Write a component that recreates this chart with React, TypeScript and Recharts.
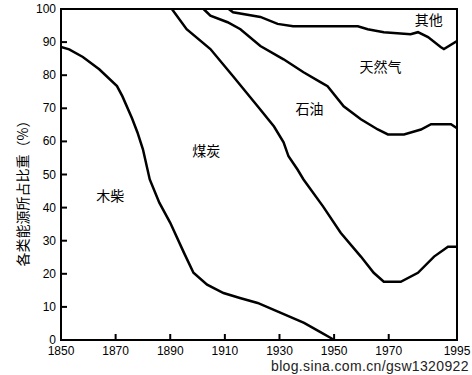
import React from "react";
import { LineChart, Line, XAxis, YAxis, ReferenceArea, ReferenceDot } from "recharts";

// Boundary between 木柴 and 煤炭
const woodYears = [1850, 1853, 1858, 1864, 1870.5, 1872.5, 1876, 1878, 1880, 1882.5, 1886, 1890, 1895, 1898.5, 1903.5, 1909.5, 1915.5, 1922, 1930.5, 1939, 1945, 1948.8, 1950];
const woodValues = [88.5, 87.8, 85.5, 81.8, 76.7, 73.6, 67, 62.7, 57.6, 48.5, 41.5, 35.4, 26.4, 20.3, 16.7, 14.2, 12.7, 11.2, 8.2, 5.2, 2.4, 0.6, 0];

// Boundary between 煤炭 and 石油
const coalYears = [1890.6, 1896, 1904.7, 1913, 1922, 1928, 1931.5, 1933.3, 1936.6, 1938.8, 1946, 1952.4, 1959.8, 1964.5, 1968.2, 1974.4, 1980.7, 1986.6, 1991.7, 1995];
const coalValues = [100, 93.9, 87.9, 79.7, 70.6, 64.5, 59.7, 55.5, 51.5, 48.5, 40.3, 32.4, 25.2, 20.3, 17.6, 17.6, 20.3, 25.2, 28.2, 28.2];

// Boundary between 石油 and 天然气
const oilYears = [1902.2, 1904.7, 1911, 1915.7, 1923, 1931.5, 1938.8, 1945, 1947.6, 1953.5, 1959.8, 1966, 1969.7, 1975.6, 1981.8, 1985.5, 1992.8, 1995];
const oilValues = [100, 98, 96, 93.9, 88.8, 84.8, 80.9, 77.9, 76.7, 70.6, 66.7, 63.6, 62.1, 62.1, 63.6, 65.2, 65.2, 64];

// Boundary between 天然气 and 其他
const gasYears = [1911.4, 1913, 1923, 1929.3, 1935, 1937.7, 1958.7, 1962.3, 1968.2, 1978, 1980.7, 1984.4, 1989, 1990.2, 1995];
const gasValues = [100, 99, 97.6, 95.5, 94.8, 94.8, 94.8, 93.9, 93, 92.4, 93, 91.5, 88.5, 87.9, 90.3];

const xTicks = [1850, 1870, 1890, 1910, 1930, 1950, 1970, 1995];
const yTicks = [0, 10, 20, 30, 40, 50, 60, 70, 80, 90, 100];

const regionNames = ["木柴", "煤炭", "石油", "天然气", "其他"];
const regionLabelX = [1868, 1903.2, 1941, 1967, 1984.7];
const regionLabelY = [43.6, 57, 69.7, 82.4, 96.7];

const toPoints = (xs: number[], ys: number[]) => xs.map((x, i) => ({ x, y: ys[i] }));

const seriesList = [
  toPoints(woodYears, woodValues),
  toPoints(coalYears, coalValues),
  toPoints(oilYears, oilValues),
  toPoints(gasYears, gasValues),
];

const font = "'Liberation Sans', Arial, sans-serif";

const XTick = (props: any) => {
  const { x, y, payload } = props;
  return (
    <g>
      <line x1={x} y1={y} x2={x} y2={y - 6} stroke="#000" strokeWidth={2} />
      <text x={x} y={y + 15} textAnchor="middle" fontSize={12} fontFamily={font} fill="#000">
        {payload.value}
      </text>
    </g>
  );
};

const YTick = (props: any) => {
  const { x, y, payload } = props;
  return (
    <g>
      <line x1={x} y1={y} x2={x + 6} y2={y} stroke="#000" strokeWidth={2} />
      <text x={x - 5} y={y + 4} textAnchor="end" fontSize={12} fontFamily={font} fill="#000">
        {payload.value}
      </text>
    </g>
  );
};

export default function App() {
  return (
    <div style={{ position: "absolute", left: 0, top: 0, width: 472, height: 375, background: "#fff", overflow: "hidden" }}>
      <LineChart width={472} height={375} margin={{ top: 9, right: 15, left: 0, bottom: 0 }}>
        <XAxis
          type="number"
          dataKey="x"
          domain={[1850, 1995]}
          ticks={xTicks}
          interval={0}
          allowDataOverflow
          tickSize={0}
          tickMargin={0}
          tickLine={false}
          axisLine={false}
          tick={<XTick />}
          height={35}
        />
        <YAxis
          type="number"
          dataKey="y"
          domain={[0, 100]}
          ticks={yTicks}
          interval={0}
          tickSize={0}
          tickMargin={0}
          tickLine={false}
          axisLine={false}
          tick={<YTick />}
          width={61}
        />
        <ReferenceArea x1={1850} x2={1995} y1={0} y2={100} fill="none" stroke="#000" strokeWidth={2} ifOverflow="visible" />
        {seriesList.map((d, i) => (
          <Line
            key={i}
            data={d}
            dataKey="y"
            type="linear"
            stroke="#000"
            strokeWidth={2.5}
            dot={false}
            activeDot={false}
            isAnimationActive={false}
          />
        ))}
        {regionNames.map((name, i) => (
          <ReferenceDot
            key={name}
            x={regionLabelX[i]}
            y={regionLabelY[i]}
            r={0}
            fill="none"
            stroke="none"
            label={{ value: name, position: "center", fontSize: 14, fill: "#000", fontFamily: "'Noto Sans CJK SC', sans-serif" }}
          />
        ))}
      </LineChart>
      <div
        style={{
          position: "absolute",
          left: 22,
          top: 190,
          transform: "translate(-50%, -50%) rotate(-90deg)",
          whiteSpace: "nowrap",
          fontSize: 14,
          fontFamily: "'Noto Sans CJK SC', sans-serif",
          color: "#000",
        }}
      >
        各类能源所占比重（%）
      </div>
      <div
        style={{
          position: "absolute",
          left: 271,
          top: 359,
          whiteSpace: "nowrap",
          fontSize: 14,
          lineHeight: "15px",
          letterSpacing: "0.35px",
          fontFamily: font,
          color: "#222",
        }}
      >
        blog.sina.com.cn/gsw1320922
      </div>
    </div>
  );
}
